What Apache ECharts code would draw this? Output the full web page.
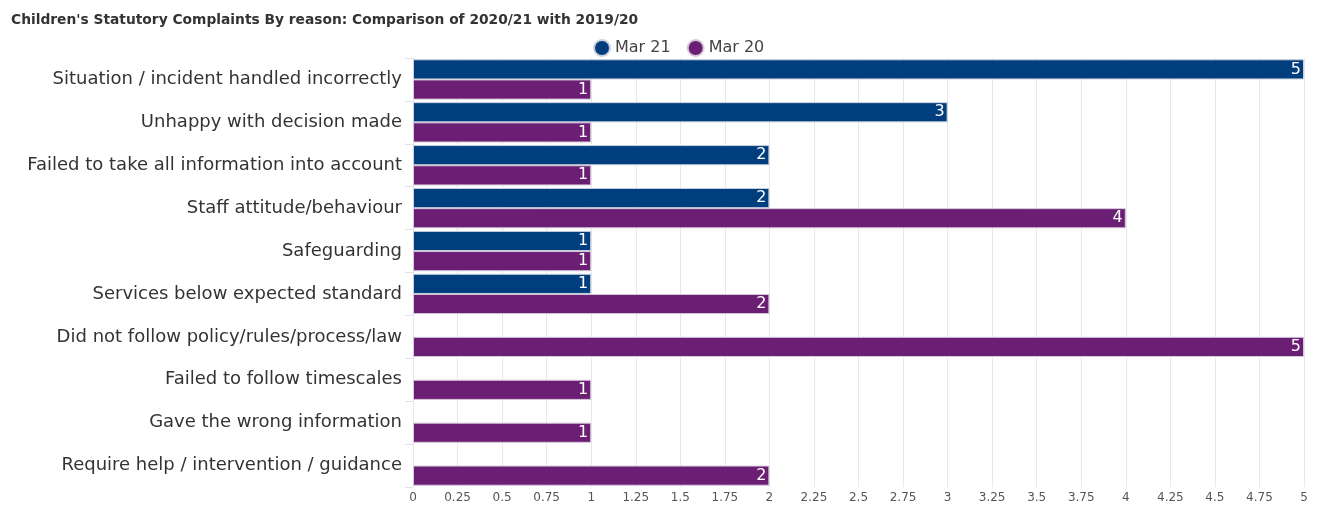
<!DOCTYPE html>
<html>
<head>
<meta charset="utf-8">
<script src="https://cdn.jsdelivr.net/npm/echarts@6/dist/echarts.min.js"></script>
<style>
  html, body { margin: 0; padding: 0; background: #fff; }
  #chart { width: 1321px; height: 505px; }
</style>
</head>
<body>
<div id="chart"></div>
<script>
// Complaint reasons, listed top to bottom
const reasons = [
  'Situation / incident handled incorrectly',
  'Unhappy with decision made',
  'Failed to take all information into account',
  'Staff attitude/behaviour',
  'Safeguarding',
  'Services below expected standard',
  'Did not follow policy/rules/process/law',
  'Failed to follow timescales',
  'Gave the wrong information',
  'Require help / intervention / guidance'
];
const mar21 = [5, 3, 2, 2, 1, 1, null, null, null, null];
const mar20 = [1, 1, 1, 4, 1, 2, 5, 1, 1, 2];
const xTicks = [0, 0.25, 0.5, 0.75, 1, 1.25, 1.5, 1.75, 2, 2.25, 2.5, 2.75, 3, 3.25, 3.5, 3.75, 4, 4.25, 4.5, 4.75, 5];

const FONT = "'DejaVu Sans', Verdana, sans-serif";

const chart = echarts.init(document.getElementById('chart'), null, { renderer: 'canvas' });

const barLabel = {
  show: true,
  position: 'insideRight',
  color: '#fff',
  fontFamily: FONT,
  fontSize: 16,
  distance: 3
};

chart.setOption({
  animation: false,
  title: {
    text: "Children's Statutory Complaints By reason: Comparison of 2020/21 with 2019/20",
    left: 6,
    top: 8,
    textStyle: { fontFamily: FONT, fontSize: 13.8, fontWeight: 'bold', color: '#333' }
  },
  legend: {
    data: ['Mar 21', 'Mar 20'],
    left: 588,
    top: 34,
    icon: 'circle',
    itemWidth: 16,
    itemHeight: 16,
    itemGap: 16,
    textStyle: { fontFamily: FONT, fontSize: 16, color: '#444' }
  },
  grid: { left: 413, right: 17, top: 58, bottom: 18, containLabel: false },
  xAxis: {
    type: 'value',
    min: xTicks[0],
    max: xTicks[xTicks.length - 1],
    interval: 0.25,
    axisLine: { show: false },
    axisTick: { show: false },
    splitLine: { show: true, lineStyle: { color: '#e8e8e8', width: 1 } },
    axisLabel: { fontFamily: FONT, fontSize: 12, color: '#555', margin: 5 }
  },
  yAxis: {
    type: 'category',
    data: reasons,
    inverse: true,
    axisLine: { show: false },
    axisTick: { show: true, length: 8, lineStyle: { color: '#dde3ee' } },
    axisLabel: { fontFamily: FONT, fontSize: 18, color: '#333', margin: 11 }
  },
  series: [
    {
      name: 'Mar 21',
      type: 'bar',
      data: mar21,
      barGap: '0%',
      barCategoryGap: '6%',
      itemStyle: { color: '#003e7e', borderColor: '#c9cfdc', borderWidth: 1 },
      label: barLabel
    },
    {
      name: 'Mar 20',
      type: 'bar',
      data: mar20,
      barGap: '0%',
      barCategoryGap: '6%',
      itemStyle: { color: '#6b1f74', borderColor: '#d6c8da', borderWidth: 1 },
      label: barLabel
    }
  ]
});
</script>
</body>
</html>
